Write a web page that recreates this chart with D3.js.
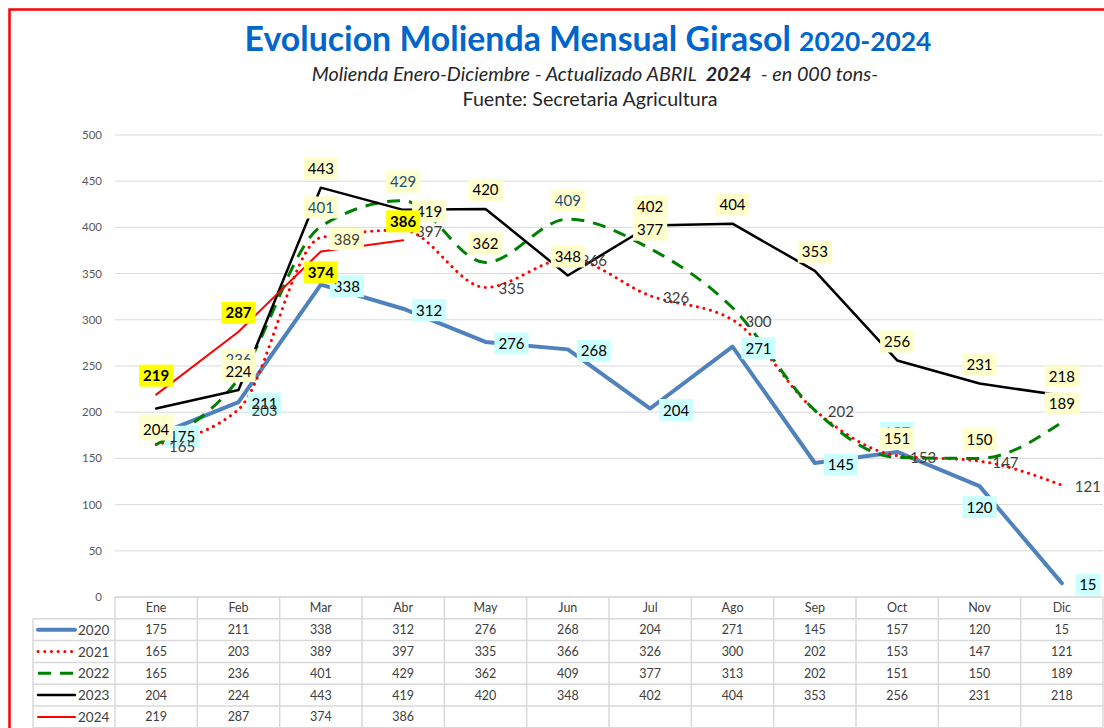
<!DOCTYPE html>
<html>
<head>
<meta charset="utf-8">
<script src="https://cdn.jsdelivr.net/npm/d3@7"></script>
<style>
body { margin: 0; background: #fff; }
svg { display: block; font-family: Lato, "Open Sans", sans-serif; }
</style>
</head>
<body>
<script>
//Width and height
var w = 1104;
var h = 728;

//Chart data (000 tons)
var months = ["Ene","Feb","Mar","Abr","May","Jun","Jul","Ago","Sep","Oct","Nov","Dic"];
var years = ["2020","2021","2022","2023","2024"];
var v2020 = [175,211,338,312,276,268,204,271,145,157,120,15];
var v2021 = [165,203,389,397,335,366,326,300,202,153,147,121];
var v2022 = [165,236,401,429,362,409,377,313,202,151,150,189];
var v2023 = [204,224,443,419,420,348,402,404,353,256,231,218];
var v2024 = [219,287,374,386,null,null,null,null,null,null,null,null];
var yTicks = [0,50,100,150,200,250,300,350,400,450,500];

//Series styles
var series = [
    {name: "2020", values: v2020, color: "#4F81BD", width: 4, dash: null, cap: "round", curve: d3.curveLinear,
     place: "right", box: "#CCFFFF", text: "#000"},
    {name: "2021", values: v2021, color: "#FF0000", width: 3, dash: "0.1,6.6", cap: "round", curve: d3.curveMonotoneX,
     place: "right", box: null, text: "#404040"},
    {name: "2022", values: v2022, color: "#008000", width: 3, dash: "13,9", cap: "butt", curve: d3.curveMonotoneX,
     place: "above", box: "#FFFFCC", text: "#000"},
    {name: "2023", values: v2023, color: "#000000", width: 2.5, dash: null, cap: "round", curve: d3.curveLinear,
     place: "above", box: "#FFFFCC", text: "#000"},
    {name: "2024", values: v2024, color: "#FF0000", width: 2, dash: null, cap: "round", curve: d3.curveLinear,
     place: "above", box: "#FFFF00", text: "#000", bold: true}
];

//Per-label exceptions (index = month)
var labelPlace = {"2020": {9: "above", 10: "below"}, "2023": {0: "below", 3: "right"}, "2024": {2: "below"}};
var labelHidden = {"2022": [7, 8]};
var labelBlue = {"2022": [1, 2, 3, 5]};
var labelBox = {"2021": {2: "#FFFFCC"}};

//Create SVG element
var svg = d3.select("body")
            .append("svg")
            .attr("width", w)
            .attr("height", h);

//Red frame
svg.append("rect")
    .attr("x", 9.5).attr("y", 9.5)
    .attr("width", 1200).attr("height", 800)
    .attr("fill", "none")
    .attr("stroke", "#FF0000")
    .attr("stroke-width", 2.5);

//Scales
var x = d3.scaleBand().domain(months).range([115, 1103]);
var y = d3.scaleLinear().domain([0, 500]).range([597, 135]);
var cx = function(i) { return x(months[i]) + x.bandwidth() / 2; };

//Fit text to a target width
function fitText(sel, target) {
    var len = sel.node().getComputedTextLength();
    var fs = parseFloat(sel.attr("font-size"));
    sel.attr("font-size", fs * target / len);
}

//Titles
var title = svg.append("text")
    .attr("x", 588).attr("y", 51)
    .attr("text-anchor", "middle")
    .attr("font-size", 30)
    .attr("font-weight", "bold")
    .attr("fill", "#0066CC");
title.append("tspan").text("Evolucion Molienda Mensual Girasol ");
title.append("tspan").attr("font-size", "0.78em").text("2020-2024");
fitText(title, 687);

var sub = svg.append("text")
    .attr("x", 595).attr("y", 81)
    .attr("text-anchor", "middle")
    .attr("font-size", 17)
    .attr("font-style", "italic")
    .attr("fill", "#262626")
    .attr("xml:space", "preserve");
sub.append("tspan").text("Molienda Enero-Diciembre - Actualizado ABRIL  ");
sub.append("tspan").attr("font-weight", "bold").text("2024");
sub.append("tspan").text("  - en 000 tons-");
fitText(sub, 567);

var src = svg.append("text")
    .attr("x", 590).attr("y", 106)
    .attr("text-anchor", "middle")
    .attr("font-size", 17)
    .attr("fill", "#262626")
    .text("Fuente: Secretaria Agricultura");
fitText(src, 255);

//Gridlines and y labels
svg.selectAll(".grid")
    .data(yTicks)
    .enter()
    .append("line")
    .attr("x1", 115).attr("x2", 1103)
    .attr("y1", function(d) { return y(d); })
    .attr("y2", function(d) { return y(d); })
    .attr("stroke", "#D9D9D9")
    .attr("stroke-width", 1);

svg.selectAll(".ylab")
    .data(yTicks)
    .enter()
    .append("text")
    .attr("x", 102)
    .attr("y", function(d) { return y(d) + 4; })
    .attr("text-anchor", "end")
    .attr("font-size", 11.5)
    .attr("fill", "#595959")
    .text(function(d) { return d; });

//Lines
series.forEach(function(s) {
    var line = d3.line()
        .defined(function(d) { return d != null; })
        .x(function(d, i) { return cx(i); })
        .y(function(d) { return y(d); })
        .curve(s.curve);
    svg.append("path")
        .datum(s.values)
        .attr("d", line)
        .attr("fill", "none")
        .attr("stroke", s.color)
        .attr("stroke-width", s.width)
        .attr("stroke-dasharray", s.dash)
        .attr("stroke-linecap", s.cap)
        .attr("stroke-linejoin", "round");
});

//Data labels
series.forEach(function(s) {
    s.values.forEach(function(v, i) {
        if (v == null) return;
        if ((labelHidden[s.name] || []).indexOf(i) >= 0) return;
        var place = (labelPlace[s.name] || {})[i] || s.place;
        var px = cx(i), py = y(v);
        var lx = px, ly = py;
        if (place == "right") { lx = px + 26; ly = py + 1.5; }
        if (place == "above") { ly = py - 19; }
        if (place == "below") { ly = py + 21; }
        var box = (labelBox[s.name] || {})[i] || s.box;
        var fill = (labelBlue[s.name] || []).indexOf(i) >= 0 ? "#1F4E79" : s.text;
        var g = svg.append("g").attr("transform", "translate(" + lx + "," + ly + ")");
        var t = g.append("text")
            .attr("text-anchor", "middle")
            .attr("y", 5.5)
            .attr("font-size", 15)
            .attr("font-weight", s.bold ? "bold" : "normal")
            .attr("fill", fill)
            .text(v);
        if (box) {
            var bw = t.node().getComputedTextLength() + 8;
            g.insert("rect", "text")
                .attr("x", -bw / 2).attr("y", -11)
                .attr("width", bw).attr("height", 22)
                .attr("fill", box);
        }
    });
});

//Data table
var rowTop = 597, rowH = 21.8;
var tcol = "#D9D9D9";
var table = svg.append("g");

//Horizontal rules
d3.range(0, years.length + 2).forEach(function(r) {
    table.append("line")
        .attr("x1", r == 0 ? 115 : 33).attr("x2", 1103)
        .attr("y1", rowTop + r * rowH).attr("y2", rowTop + r * rowH)
        .attr("stroke", tcol).attr("stroke-width", 1.5);
});
//Vertical rules
table.append("line")
    .attr("x1", 33).attr("x2", 33)
    .attr("y1", rowTop + rowH).attr("y2", rowTop + rowH * 6)
    .attr("stroke", tcol).attr("stroke-width", 1.5);
months.forEach(function(m) {
    table.append("line")
        .attr("x1", x(m)).attr("x2", x(m))
        .attr("y1", rowTop).attr("y2", rowTop + rowH * 6)
        .attr("stroke", tcol).attr("stroke-width", 1.5);
});
table.append("line")
    .attr("x1", 1103).attr("x2", 1103)
    .attr("y1", rowTop).attr("y2", rowTop + rowH * 6)
    .attr("stroke", tcol).attr("stroke-width", 1.5);

//Header
months.forEach(function(m, i) {
    table.append("text")
        .attr("x", cx(i)).attr("y", rowTop + rowH / 2 + 4.5)
        .attr("text-anchor", "middle")
        .attr("font-size", 12.5)
        .attr("fill", "#404040")
        .text(m);
});

//Rows with legend keys
series.forEach(function(s, r) {
    var ym = rowTop + rowH * (r + 1.5);
    table.append("line")
        .attr("x1", 38).attr("x2", 75)
        .attr("y1", ym).attr("y2", ym)
        .attr("stroke", s.color)
        .attr("stroke-width", s.width)
        .attr("stroke-dasharray", s.dash)
        .attr("stroke-linecap", s.cap);
    table.append("text")
        .attr("x", 78).attr("y", ym + 5)
        .attr("font-size", 13.5)
        .attr("fill", "#404040")
        .text(s.name);
    s.values.forEach(function(v, i) {
        if (v == null) return;
        table.append("text")
            .attr("x", cx(i)).attr("y", ym + 4.5)
            .attr("text-anchor", "middle")
            .attr("font-size", 12.5)
            .attr("fill", "#404040")
            .text(v);
    });
});
</script>
</body>
</html>
